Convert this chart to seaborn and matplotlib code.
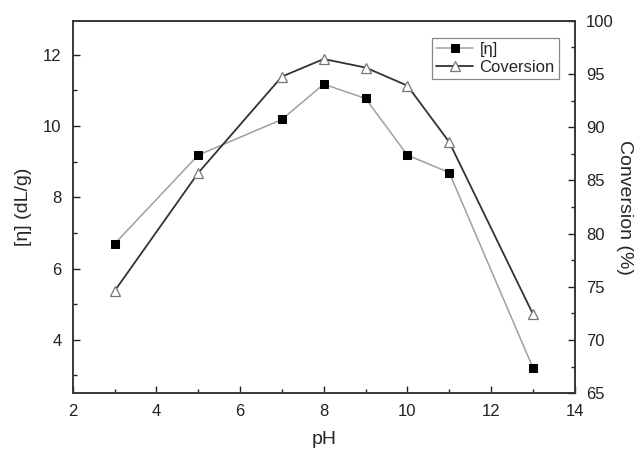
import numpy as np
import matplotlib
matplotlib.use("Agg")
import matplotlib.pyplot as plt
from matplotlib.ticker import MultipleLocator
import pandas as pd
import seaborn as sns

sns.set_style("ticks")
plt.rcParams["font.family"] = ["Liberation Sans", "DejaVu Sans"]

ph = [3, 5, 7, 8, 9, 10, 11, 13]
eta = [6.69, 9.18, 10.18, 11.17, 10.77, 9.18, 8.69, 3.22]
conversion = [74.6, 85.7, 94.75, 96.4, 95.6, 93.9, 88.6, 72.45]

df = pd.DataFrame({"pH": ph, "eta": eta, "conv": conversion})

fig = plt.figure(figsize=(6.4, 4.5), dpi=100)
ax = fig.add_axes([0.1136, 0.126, 0.898 - 0.1136, 0.954 - 0.126])
ax2 = ax.twinx()

sns.lineplot(data=df, x="pH", y="eta", ax=ax, color="#a0a0a0", lw=1.1,
             marker="s", markersize=6, markerfacecolor="black",
             markeredgecolor="black", label="[\u03b7]", legend=False)
sns.lineplot(data=df, x="pH", y="conv", ax=ax2, color="#333333", lw=1.3,
             marker="^", markersize=7.5, markerfacecolor="white",
             markeredgecolor="#777777", markeredgewidth=0.9,
             label="Coversion", legend=False)

ax.set_xlim(2, 14)
ax.set_ylim(2.5, 12.95)
ax2.set_ylim(65, 100)

ax.xaxis.set_major_locator(MultipleLocator(2))
ax.xaxis.set_minor_locator(MultipleLocator(1))
ax.yaxis.set_major_locator(MultipleLocator(2))
ax.yaxis.set_minor_locator(MultipleLocator(1))
ax2.yaxis.set_major_locator(MultipleLocator(5))
ax2.yaxis.set_minor_locator(MultipleLocator(2.5))

for a in (ax, ax2):
    a.tick_params(which="both", direction="in", labelsize=12, colors="#222222",
                  width=1.0)
    a.tick_params(which="major", length=5, pad=8)
    a.tick_params(which="minor", length=3)
    for s in a.spines.values():
        s.set_linewidth(1.1)
        s.set_color("#333333")
        s.set_visible(True)

ax.set_xlabel("pH", fontsize=14, labelpad=8)
ax.set_ylabel("[\u03b7] (dL/g)", fontsize=14, labelpad=8)
ax2.set_ylabel("Conversion (%)", fontsize=14, rotation=270, labelpad=14)

h1, l1 = ax.get_legend_handles_labels()
h2, l2 = ax2.get_legend_handles_labels()
leg = ax2.legend(h1 + h2, l1 + l2, loc="upper right",
                 bbox_to_anchor=(559 / 640, 1 - 38 / 450),
                 bbox_transform=fig.transFigure, borderaxespad=0,
                 fontsize=12, fancybox=False, framealpha=1,
                 edgecolor="#888888", handlelength=2.2, handletextpad=0.4,
                 borderpad=0.25, labelspacing=0.15)
leg.get_frame().set_linewidth(0.9)

fig.savefig("out.png", dpi=100)
